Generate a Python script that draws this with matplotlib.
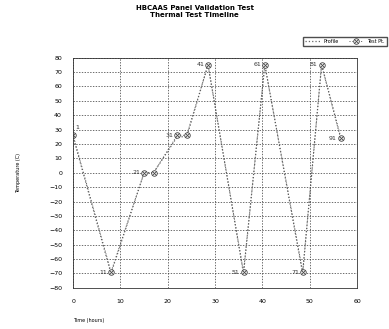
import numpy as np
import matplotlib
matplotlib.use("Agg")
import matplotlib.pyplot as plt

# profile vertices (hours, deg C)
profile_time = [0, 8, 15, 17, 22, 24, 28.5, 36, 40.5, 48.5, 52.5, 56.5]
profile_temp = [25, -70, 0, 0, 25, 25, 75, -70, 75, -70, 75, 25]

# measured points with their labels
point_time = [0, 8, 15, 17, 22, 24, 28.5, 36, 40.5, 48.5, 52.5, 56.5]
point_temp = [26, -69, 0, 0, 26, 26, 75, -69, 75, -69, 75, 24]
point_label = ["1", "11", "21", "", "31", "", "41", "51", "61", "71", "81", "91"]

x_ticks = [0, 10, 20, 30, 40, 50, 60]
y_ticks = list(range(-80, 81, 10))

fig = plt.figure(figsize=(3.89, 3.29), dpi=100)
ax = fig.add_axes([0.188, 0.125, 0.73, 0.7])

h1, = ax.plot(profile_time, profile_temp, color="#666666", linestyle=":", linewidth=0.9)
h2, = ax.plot(point_time, point_temp, color="#555555", linestyle=(0, (1, 2)), linewidth=0.7,
              marker="o", markersize=4, markerfacecolor="white",
              markeredgecolor="#444444", markeredgewidth=0.6)
h3, = ax.plot(point_time, point_temp, linestyle="none", marker="x", markersize=2.6,
              markeredgecolor="#444444", markeredgewidth=0.6)

for t, v, s in zip(point_time, point_temp, point_label):
    if s == "1":
        ax.text(t + 0.4, v + 4, s, fontsize=4.5, ha="left", va="bottom", color="#333333")
    elif s:
        ax.text(t - 0.8, v, s, fontsize=4.5, ha="right", va="center", color="#333333")

ax.set_xlim(0, 60)
ax.set_ylim(-80, 80)
ax.set_xticks(x_ticks)
ax.set_yticks(y_ticks)
ax.tick_params(labelsize=4.5, length=0, pad=8)
ax.grid(True, color="#333333", linestyle=(0, (2, 2)), linewidth=0.5)
for sp in ax.spines.values():
    sp.set_color("#333333")
    sp.set_linewidth(0.6)

ax.set_xlabel("Time (hours)", fontsize=3.5, labelpad=10, loc="left")
ax.set_ylabel("Temperature (C)", fontsize=3.5, labelpad=20)
fig.suptitle("HBCAAS Panel Validation Test\nThermal Test Timeline",
             fontsize=5, fontweight="bold", y=0.985)

fig.legend([h1, (h2, h3)], ["Profile", "Test Pt."], loc="upper right",
           bbox_to_anchor=(1.0, 0.895), ncol=2, fontsize=3.5,
           frameon=True, fancybox=False, edgecolor="#222222", handlelength=3)

plt.savefig("out.png", dpi=100)
